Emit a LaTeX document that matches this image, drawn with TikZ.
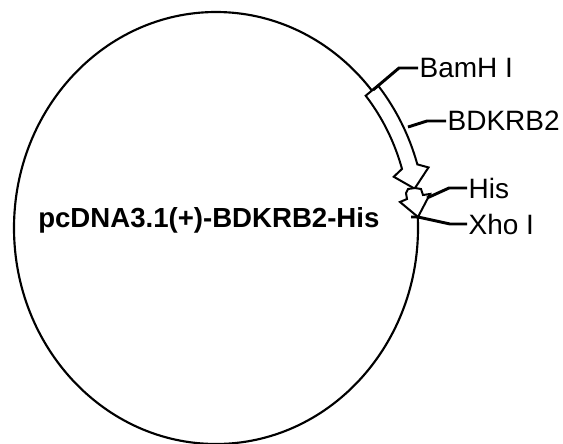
\documentclass[tikz,border=0pt]{standalone}
\usepackage{fontspec}
\setmainfont{Liberation Sans}
\begin{document}
\begin{tikzpicture}[x=0.75pt,y=-0.75pt,
  ring/.style={line width=1.6pt},
  feat/.style={line width=1.5pt,fill=white,line join=miter},
  lead/.style={line width=2.2pt},
  lbl/.style={inner xsep=1pt,inner ysep=0pt,anchor=west,font=\fontsize{21}{24}\selectfont},
  ttl/.style={inner sep=0pt,anchor=base west,font=\fontsize{20.7}{24}\selectfont\bfseries}]
\useasboundingbox (0,0) rectangle (563,443);
\clip (0,0) rectangle (563,443);
% plasmid backbone
\draw[ring] (216,228) ellipse [x radius=151.5pt, y radius=162pt];
% BDKRB2 feature arrow
\draw[feat] plot[domain=39.5:16.5,samples=25,smooth] ({216+210*cos(\x)},{228-224*sin(\x)})
  -- ({216+220*cos(15)},{228-234*sin(15)})
  -- ({216+202*cos(10.5)},{228-216*sin(10.5)})
  -- ({216+184*cos(15)},{228-198*sin(15)})
  -- plot[domain=16.5:39.5,samples=25,smooth] ({216+194*cos(\x)},{228-208*sin(\x)})
  -- cycle;
% His tag feature
\draw[feat] (406,193) -- (408,189) -- (415,188) -- (421,189) -- (423,195) -- (430,194)
  -- (418,217) -- (400,202) -- (407,199) -- cycle;
% sites
\coordinate (bamsite) at (373,90);
\coordinate (cdssite) at (408,127);
\coordinate (hissite) at (427,198);
\coordinate (xhosite) at (411,217);
% labels
\node[lbl] (bam) at (418,68) {BamH I};
\node[lbl] (cds) at (446,121) {BDKRB2};
\node[lbl] (his) at (467,188) {His};
\node[lbl] (xho) at (467,224) {Xho I};
\node[ttl] (name) at (38,227) {pcDNA3.1(+)-BDKRB2-His};
% leaders
\draw[lead] (bamsite) -- (399,68) -- (bam.west);
\draw[lead] (cdssite) -- (427,121) -- (cds.west);
\draw[lead] (hissite) -- (449,188) -- (his.west);
\draw[lead] (xhosite) -- (418,217) -- (450,224) -- (xho.west);
\end{tikzpicture}
\end{document}
